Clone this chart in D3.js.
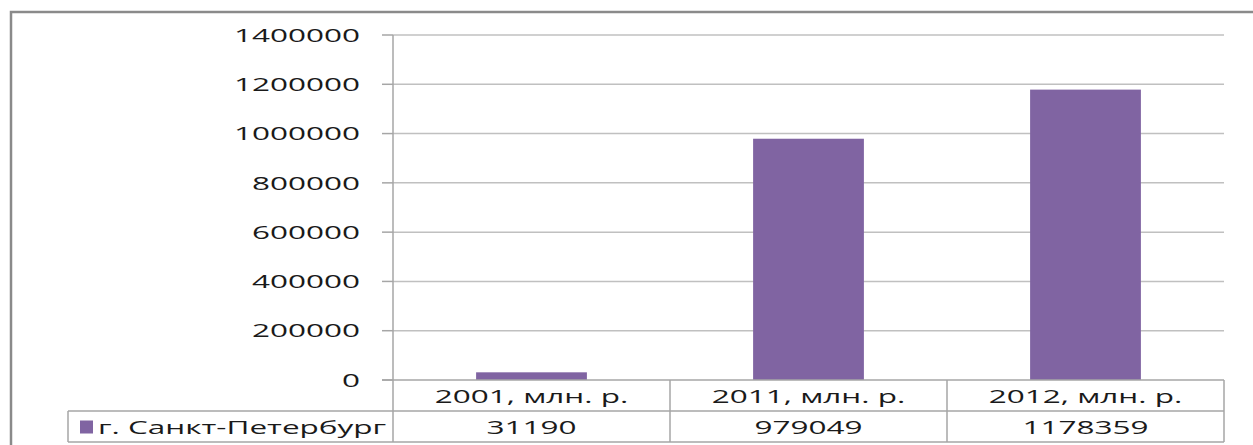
<!DOCTYPE html>
<html>
<head>
<meta charset="utf-8">
<script src="https://cdn.jsdelivr.net/npm/d3@7"></script>
<style>
  body { margin: 0; background: #fff; }
  svg { display: block; }
</style>
</head>
<body>
<div id="vis"></div>
<script>
// data
let categories = ['2001, млн. р.', '2011, млн. р.', '2012, млн. р.'];
let seriesName = 'г. Санкт-Петербург';
let values = [31190, 979049, 1178359];
let yTicks = [0, 200000, 400000, 600000, 800000, 1000000, 1200000, 1400000];

let W = 1253, H = 445;
let margin = { top: 35, left: 393, right: 29, bottom: 65 };
let rowH = 31;
let stretch = 1.75; // the source text is stretched horizontally

let svg = d3.select('#vis')
    .append('svg')
    .attr('width', W)
    .attr('height', H);

svg.append('rect')
    .attr('x', 0).attr('y', 0)
    .attr('width', W).attr('height', H)
    .attr('fill', '#fff');

// outer chart frame (right / bottom edges are outside the picture)
svg.append('rect')
    .attr('x', 11).attr('y', 12)
    .attr('width', W + 20).attr('height', H + 20)
    .attr('fill', 'none')
    .attr('stroke', '#8a8a8a')
    .attr('stroke-width', 2.5);

let x = d3.scaleBand()
    .domain(categories)
    .range([margin.left, W - margin.right])
    .padding(0);

let y = d3.scaleLinear()
    .domain([0, 1400000])
    .range([H - margin.bottom, margin.top]);

let y0 = y(0);
let xLeft = margin.left, xRight = W - margin.right;

function stretchedText(g, tx, ty, str, anchor) {
    return g.append('text')
        .attr('transform', 'translate(' + tx + ',' + ty + ') scale(' + stretch + ',1)')
        .attr('text-anchor', anchor)
        .attr('dominant-baseline', 'central')
        .attr('font-family', '"Open Sans", sans-serif')
        .attr('font-size', 18)
        .attr('fill', '#1a1a1a')
        .text(str);
}

// gridlines
svg.append('g')
    .selectAll('line')
    .data(yTicks.filter(d => d > 0))
    .enter().append('line')
    .attr('x1', xLeft).attr('x2', xRight)
    .attr('y1', d => y(d)).attr('y2', d => y(d))
    .attr('stroke', '#c0c0c0')
    .attr('stroke-width', 1.5);

// y axis: ticks and labels
let yAxis = svg.append('g');
yAxis.selectAll('line')
    .data(yTicks)
    .enter().append('line')
    .attr('x1', xLeft - 11).attr('x2', xLeft)
    .attr('y1', d => y(d)).attr('y2', d => y(d))
    .attr('stroke', '#a6a6a6')
    .attr('stroke-width', 1.5);
yTicks.forEach(function(t) {
    stretchedText(yAxis, xLeft - 33, y(t), String(t), 'end');
});

// bars
svg.append('g')
    .selectAll('rect')
    .data(values)
    .enter().append('rect')
    .attr('x', (d, i) => x(categories[i]) + x.bandwidth() * 0.3)
    .attr('width', x.bandwidth() * 0.4)
    .attr('y', d => y(d))
    .attr('height', d => y0 - y(d))
    .attr('fill', '#8064A2');

// data table lines
let table = svg.append('g')
    .attr('stroke', '#a6a6a6')
    .attr('stroke-width', 1.5);
table.append('line').attr('x1', xLeft - 11).attr('x2', xRight).attr('y1', y0).attr('y2', y0);
table.append('line').attr('x1', 68).attr('x2', xRight).attr('y1', y0 + rowH).attr('y2', y0 + rowH);
table.append('line').attr('x1', 68).attr('x2', xRight).attr('y1', y0 + 2 * rowH).attr('y2', y0 + 2 * rowH);
table.append('line').attr('x1', xLeft).attr('x2', xLeft).attr('y1', margin.top).attr('y2', y0 + 2 * rowH);
table.append('line').attr('x1', 68).attr('x2', 68).attr('y1', y0 + rowH).attr('y2', y0 + 2 * rowH);
categories.forEach(function(c) {
    let xe = x(c) + x.bandwidth();
    table.append('line').attr('x1', xe).attr('x2', xe).attr('y1', y0).attr('y2', y0 + 2 * rowH);
});

// table texts
let labels = svg.append('g');
categories.forEach(function(c, i) {
    let cx = x(c) + x.bandwidth() / 2;
    stretchedText(labels, cx, y0 + rowH / 2 + 1, c, 'middle');
    stretchedText(labels, cx, y0 + rowH * 1.5 + 1, String(values[i]), 'middle');
});

// legend key in the table
labels.append('rect')
    .attr('x', 80).attr('y', y0 + rowH * 1.5 - 6)
    .attr('width', 13).attr('height', 13)
    .attr('fill', '#8064A2');
stretchedText(labels, 98, y0 + rowH * 1.5 + 1, seriesName, 'start');
</script>
</body>
</html>
